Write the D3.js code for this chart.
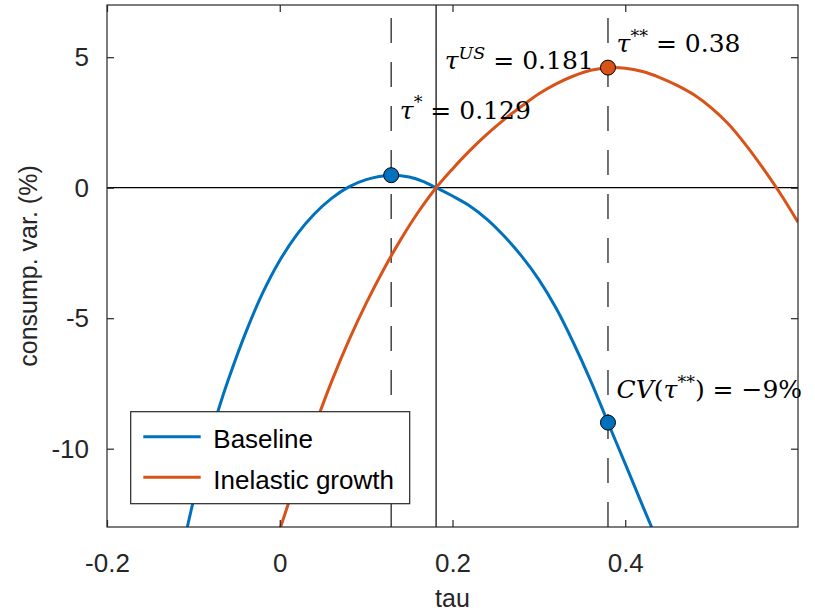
<!DOCTYPE html>
<html>
<head>
<meta charset="utf-8">
<script src="https://cdn.jsdelivr.net/npm/d3@7"></script>
<style>
  body { margin: 0; background: #fff; }
  svg { display: block; }
</style>
</head>
<body>
<script>
// values
const baseTau = [-0.107, -0.10, -0.09, -0.08, -0.07, -0.06, -0.04, -0.02, 0.0, 0.02, 0.04, 0.06, 0.08, 0.10, 0.129,
                 0.15, 0.165, 0.181, 0.20, 0.22, 0.24, 0.26, 0.28, 0.30, 0.32, 0.34, 0.36, 0.38, 0.40, 0.42, 0.433];
const baseVal = [-13.0, -12.0, -10.7, -9.5, -8.4, -7.4, -5.6, -4.05, -2.79, -1.79, -1.01, -0.41, 0.03, 0.31, 0.48,
                 0.41, 0.25, 0.0, -0.32, -0.70, -1.21, -1.86, -2.62, -3.52, -4.62, -5.94, -7.40, -9.0, -10.58, -12.18, -13.2];

const inelTau = [0.0, 0.02, 0.04, 0.06, 0.08, 0.10, 0.12, 0.14, 0.16, 0.181, 0.20, 0.22, 0.24, 0.26, 0.28, 0.30,
                 0.32, 0.34, 0.36, 0.38, 0.40, 0.42, 0.44, 0.46, 0.48, 0.50, 0.52, 0.54, 0.56, 0.58, 0.60];
const inelVal = [-13.1, -11.11, -9.19, -7.43, -5.85, -4.43, -3.15, -1.99, -0.95, 0.0, 0.72, 1.42, 2.05, 2.62, 3.12, 3.6,
                 3.98, 4.28, 4.5, 4.6, 4.58, 4.45, 4.22, 3.92, 3.55, 3.05, 2.42, 1.62, 0.72, -0.25, -1.32];

const seriesNames = ["Baseline", "Inelastic growth"];
const seriesColors = ["#0072BD", "#D95319"];

const markTau = [0.129, 0.38, 0.38];
const markVal = [0.48, 4.6, -9.0];
const markSeries = [0, 1, 0];

const tauStar = 0.129, tauUS = 0.181, tauStarStar = 0.38;

const xTicks = [-0.2, 0, 0.2, 0.4];
const yTicks = [-10, -5, 0, 5];

// annotations: [tau, value at baseline, parts]
const notes = [
  [tauStar + 0.01, 2.64, [["τ", "i"], ["*", "s"], [" = 0.129", "r"]]],
  [tauUS + 0.01, 4.53, [["τ", "i"], ["US", "si"], [" = 0.181", "r"]]],
  [tauStarStar + 0.01, 5.19, [["τ", "i"], ["**", "s"], [" = 0.38", "r"]]],
  [tauStarStar + 0.01, -8.07, [["CV", "i"], ["(", "r"], ["τ", "i"], ["**", "s"], [") = −9%", "r"]]]
];

const W = 815, H = 613;
const margin = {top: 5, right: 17, bottom: 86, left: 107};
const width = W - margin.left - margin.right;
const height = H - margin.top - margin.bottom;

const svg = d3.select("body").append("svg")
    .attr("width", W).attr("height", H);

const x = d3.scaleLinear().domain([-0.2, 0.6]).range([0, width]);
const y = d3.scaleLinear().domain([-13, 7]).range([height, 0]);

const g = svg.append("g").attr("transform", "translate(" + margin.left + "," + margin.top + ")");

g.append("clipPath").attr("id", "plotclip")
  .append("rect").attr("width", width).attr("height", height);

const plot = g.append("g").attr("clip-path", "url(#plotclip)");

// dashed guides at tau* and tau**
plot.selectAll(".guide")
  .data([tauStar, tauStarStar])
  .enter().append("line")
  .attr("class", "guide")
  .attr("x1", d => x(d)).attr("x2", d => x(d))
  .attr("y1", y(-13)).attr("y2", y(7))
  .attr("stroke", "#262626").attr("stroke-width", 1.3)
  .attr("stroke-dasharray", "25,19");

// zero line and tau US
plot.append("line")
  .attr("x1", 0).attr("x2", width)
  .attr("y1", y(0)).attr("y2", y(0))
  .attr("stroke", "#000").attr("stroke-width", 1.2);
plot.append("line")
  .attr("x1", x(tauUS)).attr("x2", x(tauUS))
  .attr("y1", 0).attr("y2", height)
  .attr("stroke", "#000").attr("stroke-width", 1.2);

const line = d3.line()
  .x(d => x(d[0]))
  .y(d => y(d[1]))
  .curve(d3.curveCatmullRom.alpha(0.5));

const series = [d3.zip(baseTau, baseVal), d3.zip(inelTau, inelVal)];

plot.selectAll(".curve")
  .data(series)
  .enter().append("path")
  .attr("class", "curve")
  .attr("d", line)
  .attr("fill", "none")
  .attr("stroke", (d, i) => seriesColors[i])
  .attr("stroke-width", 3);

// annotations
const fs = 25;
notes.forEach(function(n) {
  const t = g.append("text")
    .attr("x", x(n[0])).attr("y", y(n[1]))
    .attr("font-family", "'DejaVu Serif', serif")
    .attr("font-size", fs).attr("fill", "#000")
    .style("white-space", "pre");
  let up = false;
  n[2].forEach(function(p) {
    const sp = t.append("tspan").text(p[0]);
    if (p[1] === "i" || p[1] === "si") sp.attr("font-style", "italic");
    if (p[1] === "s" || p[1] === "si") {
      sp.attr("font-size", fs * 0.7).attr("dy", -fs * 0.42);
      up = true;
    } else if (up) {
      sp.attr("dy", fs * 0.42);
      up = false;
    }
  });
});

// markers
g.selectAll(".marker")
  .data(markTau)
  .enter().append("circle")
  .attr("class", "marker")
  .attr("cx", d => x(d))
  .attr("cy", (d, i) => y(markVal[i]))
  .attr("r", 7.5)
  .attr("fill", (d, i) => seriesColors[markSeries[i]])
  .attr("stroke", "#000").attr("stroke-width", 1);

// axes with inward ticks on all four sides
const fmt = d => String(d);
const axisColor = "#262626";
function styleAxis(sel) {
  sel.select(".domain").remove();
  sel.selectAll("line").attr("stroke", axisColor).attr("stroke-width", 1.2);
  sel.selectAll("text").attr("fill", axisColor)
    .attr("font-family", "'Liberation Sans', Arial, sans-serif").attr("font-size", 26);
}

g.append("g").attr("transform", "translate(0," + height + ")")
  .call(d3.axisBottom(x).tickValues(xTicks).tickFormat(fmt).tickSizeInner(-7).tickPadding(27))
  .call(styleAxis);
g.append("g")
  .call(d3.axisTop(x).tickValues(xTicks).tickFormat("").tickSizeInner(-7))
  .call(styleAxis);
g.append("g")
  .call(d3.axisLeft(y).tickValues(yTicks).tickFormat(fmt).tickSizeInner(-7).tickPadding(18))
  .call(styleAxis);
g.append("g").attr("transform", "translate(" + width + ",0)")
  .call(d3.axisRight(y).tickValues(yTicks).tickFormat("").tickSizeInner(-7))
  .call(styleAxis);

g.append("rect")
  .attr("width", width).attr("height", height)
  .attr("fill", "none").attr("stroke", axisColor).attr("stroke-width", 1.2);

// legend
const leg = g.append("g").attr("transform", "translate(" + (130.7 - margin.left) + "," + (411.7 - margin.top) + ")");
leg.append("rect")
  .attr("width", 279).attr("height", 92)
  .attr("fill", "#fff").attr("stroke", axisColor).attr("stroke-width", 1.2);
seriesNames.forEach(function(name, i) {
  const yy = 25 + i * 40.6;
  leg.append("line")
    .attr("x1", 12.6).attr("x2", 70).attr("y1", yy).attr("y2", yy)
    .attr("stroke", seriesColors[i]).attr("stroke-width", 3);
  leg.append("text")
    .attr("x", 82.6).attr("y", yy + 11.6)
    .attr("font-family", "'Liberation Sans', Arial, sans-serif")
    .attr("font-size", 26).attr("fill", "#000")
    .text(name);
});

// axis labels
svg.append("text")
  .attr("x", margin.left + width / 2).attr("y", 607)
  .attr("text-anchor", "middle")
  .attr("font-family", "'Liberation Sans', Arial, sans-serif")
  .attr("font-size", 25).attr("fill", axisColor)
  .text("tau");
svg.append("text")
  .attr("transform", "translate(37," + (margin.top + height / 2) + ") rotate(-90)")
  .attr("text-anchor", "middle")
  .attr("font-family", "'Liberation Sans', Arial, sans-serif")
  .attr("font-size", 25).attr("fill", axisColor)
  .text("consump. var. (%)");
</script>
</body>
</html>
